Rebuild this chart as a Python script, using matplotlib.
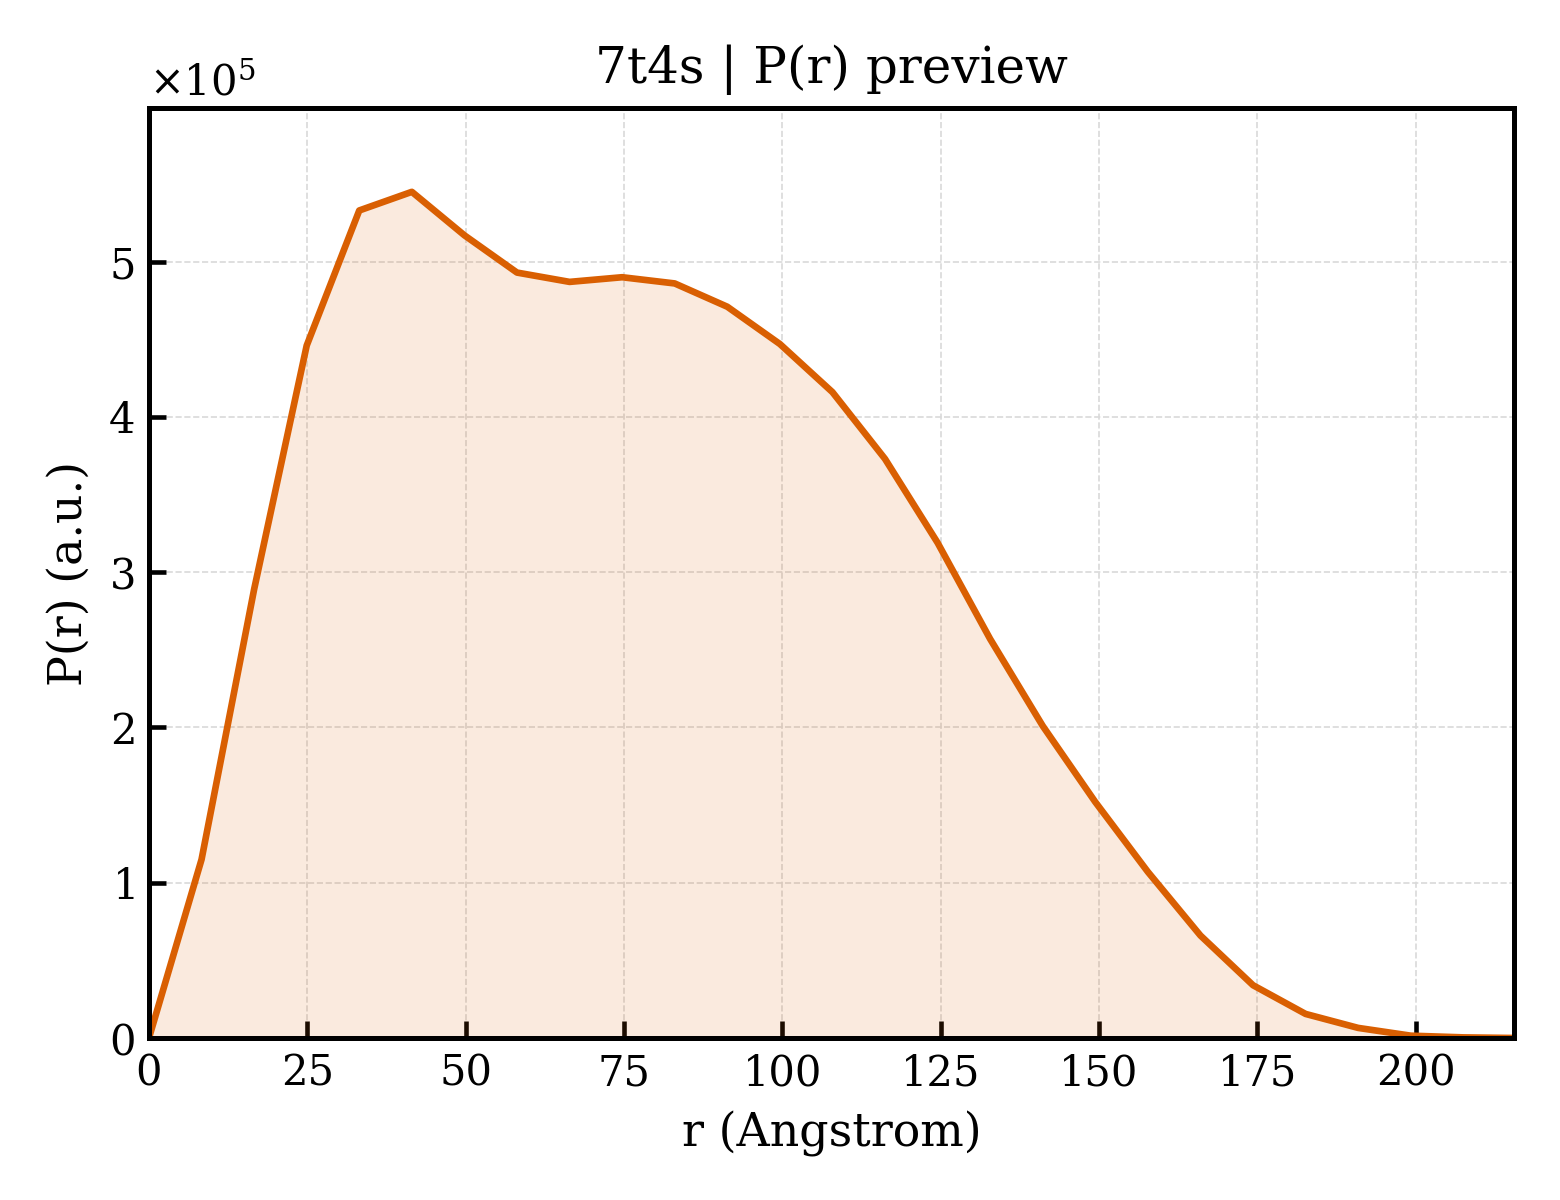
#!/usr/bin/env python3
"""P(r) preview plot for 7t4s."""

import matplotlib

matplotlib.use("Agg")
import matplotlib.pyplot as plt  # noqa: E402
from matplotlib.ticker import ScalarFormatter  # noqa: E402

plt.rcParams["font.family"] = "DejaVu Serif"
plt.rcParams["mathtext.fontset"] = "dejavuserif"

TITLE = "7t4s | P(r) preview"
X_LABEL = "r (Angstrom)"
Y_LABEL = "P(r) (a.u.)"
LINE_COLOR = "#d95f02"

r_values = [
    0.0, 8.3, 16.6, 24.9, 33.2, 41.5, 49.8, 58.1, 66.4, 74.7, 83.0, 91.3, 99.6,
    107.9, 116.2, 124.5, 132.8, 141.1, 149.4, 157.7, 166.0, 174.3, 182.6,
    190.9, 199.2, 207.5, 215.5,
]
pr_values = [
    0.0, 1.15e5, 2.89e5, 4.46e5, 5.33e5, 5.45e5, 5.17e5, 4.93e5, 4.87e5,
    4.90e5, 4.86e5, 4.71e5, 4.47e5, 4.16e5, 3.73e5, 3.19e5, 2.57e5, 2.01e5,
    1.52e5, 1.07e5, 0.66e5, 0.34e5, 0.155e5, 0.065e5, 0.015e5, 0.004e5, 0.0,
]


def main() -> None:
    fig = plt.figure(figsize=(5.2, 4.0), dpi=300)
    ax = fig.add_axes([0.0955, 0.135, 0.875, 0.775])
    ax.fill_between(r_values, pr_values, 0, color=LINE_COLOR, alpha=0.13, linewidth=0)
    ax.plot(r_values, pr_values, color=LINE_COLOR, linewidth=1.6)
    ax.set_xlim(0, r_values[-1])
    ax.set_ylim(0, 5.99e5)
    ax.set_xticks([0, 25, 50, 75, 100, 125, 150, 175, 200])
    ax.grid(True, linestyle="--", linewidth=0.4, color="0.85")
    ax.set_axisbelow(True)
    ax.tick_params(direction="in", labelsize=10, length=4, width=1.1)
    for spine in ax.spines.values():
        spine.set_linewidth(1.2)
    fmt = ScalarFormatter(useMathText=True)
    fmt.set_powerlimits((0, 0))
    ax.yaxis.set_major_formatter(fmt)
    ax.yaxis.get_offset_text().set_fontsize(10)
    ax.set_title(TITLE, fontsize=12)
    ax.set_xlabel(X_LABEL, fontsize=11)
    ax.set_ylabel(Y_LABEL, fontsize=11)
    fig.savefig("out.png", dpi=300)
    plt.close(fig)


if __name__ == "__main__":
    main()
